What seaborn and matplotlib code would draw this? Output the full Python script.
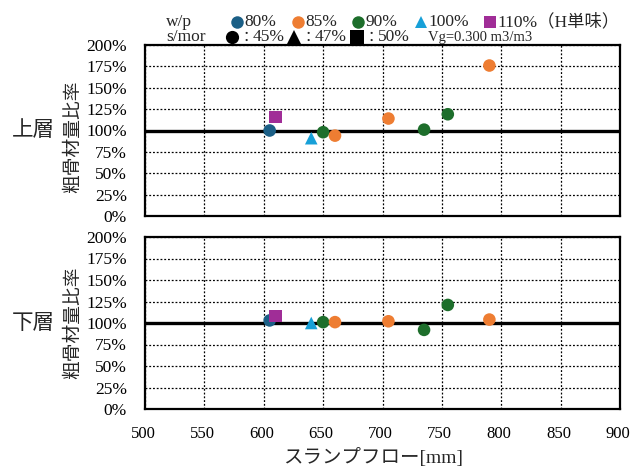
import matplotlib
matplotlib.use("Agg")
import matplotlib.pyplot as plt
from matplotlib.lines import Line2D
from matplotlib.ticker import FuncFormatter
from matplotlib.transforms import ScaledTranslation
import seaborn as sns
import pandas as pd

# Slump flow [mm] and coarse aggregate ratio [%] for the upper / lower layer
slump_flow = [605, 610, 640, 650, 660, 705, 735, 755, 790]
upper_ratio = [100, 116, 91, 98, 94, 114, 101, 119, 176]
lower_ratio = [103, 108, 100, 101, 101, 102, 92, 121, 104]
wp_labels = ["80%", "110%", "100%", "90%", "85%", "85%", "90%", "90%", "85%"]
smor_labels = ["45%", "50%", "47%", "45%", "45%", "45%", "45%", "45%", "45%"]

wp_order = ["80%", "85%", "90%", "100%", "110%"]
wp_colors = ["#1b5f86", "#ee7d32", "#1d6e2b", "#17a0d8", "#a02d97"]
smor_order = ["45%", "47%", "50%"]
smor_markers = ["o", "^", "s"]

x_ticks = [500, 550, 600, 650, 700, 750, 800, 850, 900]
y_ticks = [0, 25, 50, 75, 100, 125, 150, 175, 200]

df = pd.DataFrame({
    "slump": slump_flow,
    "upper": upper_ratio,
    "lower": lower_ratio,
    "wp": wp_labels,
    "smor": smor_labels,
})

sns.set_theme(style="white")
plt.rcParams["font.family"] = ["Liberation Serif", "Noto Sans CJK JP"]

W, H = 631, 467
fig = plt.figure(figsize=(W / 100, H / 100), dpi=100)

def px_axes(left, top, right, bottom):
    return fig.add_axes([left / W, 1 - bottom / H, (right - left) / W, (bottom - top) / H])

ax_up = px_axes(145, 45, 620, 216)
ax_lo = px_axes(145, 237, 620, 409)

palette = dict(zip(wp_order, wp_colors))
markers = dict(zip(smor_order, smor_markers))

for ax, col in ((ax_up, "upper"), (ax_lo, "lower")):
    ax.set_axisbelow(True)
    ax.grid(True, color="black", linestyle=(0, (1.5, 1.5)), linewidth=0.9)
    ax.axhline(100, color="black", linewidth=2.4, zorder=2)
    sns.scatterplot(data=df, x="slump", y=col, hue="wp", style="smor",
                    hue_order=wp_order, style_order=smor_order,
                    palette=palette, markers=markers, s=82,
                    edgecolor="none", linewidth=0, legend=False, ax=ax, zorder=3)
    ax.set_xlim(500, 900)
    ax.set_ylim(0, 200)
    ax.set_xticks(x_ticks)
    ax.set_yticks(y_ticks)
    ax.yaxis.set_major_formatter(FuncFormatter(lambda v, p: f"{v:.0f}%"))
    ax.tick_params(axis="y", length=0, labelsize=12.5, colors="black", pad=13)
    ax.tick_params(axis="x", length=0, labelsize=12, colors="black", pad=12)
    ax.set_xlabel("")
    ax.set_ylabel("")
    for sp in ax.spines.values():
        sp.set_color("black")
        sp.set_linewidth(1.6)

ax_up.tick_params(axis="x", labelbottom=False)
# nudge the x tick labels a little to the left so the last one stays inside
shift = ScaledTranslation(-2 / 100, 0, fig.dpi_scale_trans)
for lbl in ax_lo.get_xticklabels():
    lbl.set_transform(lbl.get_transform() + shift)

fig.text(373 / W, 1 - 457 / H, "スランプフロー[mm]", fontsize=14, ha="center",
         va="center")

# Panel titles and y-axis labels
for yc_title, yc_label, title in ((130, 137, "上層"), (323, 323, "下層")):
    fig.text(33 / W, 1 - yc_title / H, title, fontsize=15.5, ha="center",
             va="center", family=["Noto Sans CJK JP"])
    fig.text(73 / W, 1 - yc_label / H, "粗骨材量比率", fontsize=13.5, ha="center",
             va="center", rotation=90, family=["Noto Sans CJK JP"])

# Legend block above the upper panel
row1_y = 1 - 22 / H
row2_y = 1 - 37 / H
fig.text(166 / W, row1_y, "w/p", fontsize=12.5, va="center")
wp_key_x = [237, 298, 358, 421, 490]
wp_key_marker = ["o", "o", "o", "^", "s"]
for kx, lab, c, m in zip(wp_key_x, wp_order, wp_colors, wp_key_marker):
    fig.add_artist(Line2D([kx / W], [row1_y], marker=m, color=c, markersize=9,
                          linestyle="none", markeredgewidth=0,
                          transform=fig.transFigure))
    text = lab + ("（H単味）" if lab == "110%" else "")
    fig.text((kx + 7) / W, row1_y, text, fontsize=12.5, va="center")

fig.text(166 / W, row2_y, "s/mor", fontsize=12.5, va="center")
smor_key_x = [232, 294, 357]
for kx, lab, m in zip(smor_key_x, smor_order, smor_markers):
    fig.add_artist(Line2D([kx / W], [row2_y], marker=m, color="black", markersize=9.5,
                          linestyle="none", markeredgewidth=0,
                          transform=fig.transFigure))
    fig.text((kx + 14) / W, row2_y, "：", fontsize=11, ha="center", va="center",
             family=["Noto Sans CJK JP"])
    fig.text((kx + 21) / W, row2_y, lab, fontsize=12.5, va="center")
fig.text(428 / W, row2_y, "Vg=0.300 m3/m3", fontsize=10.5, va="center")

fig.savefig("out.png", dpi=100)
